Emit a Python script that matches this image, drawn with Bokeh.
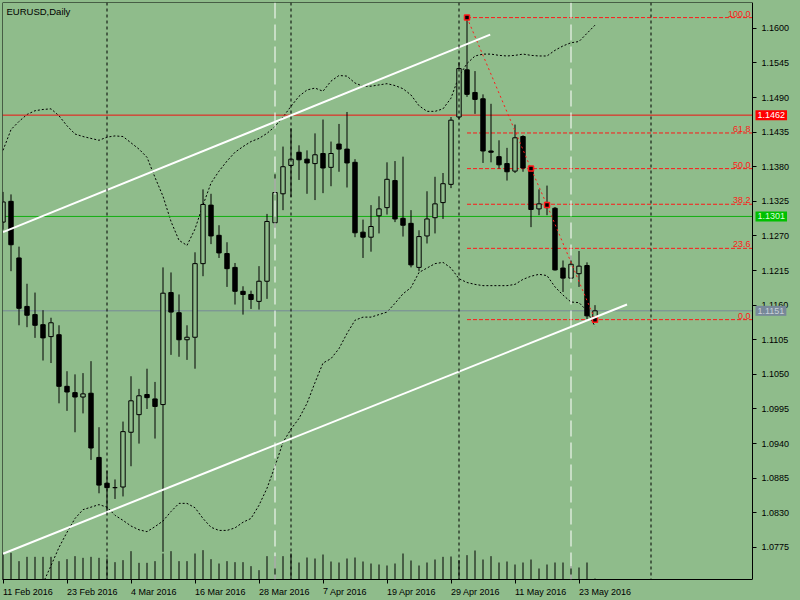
from bokeh.plotting import figure
from bokeh.models import (Range1d, FixedTicker, NumeralTickFormatter, Span, Label,
                          ColumnDataSource, LinearAxis)
from bokeh.embed import file_html
from bokeh.resources import INLINE

BG = "#8FBC8B"
FONT = "Liberation Sans"

# ---------------- data (EURUSD daily, 11 Feb 2016 .. 25 May 2016) ----------------
date_tick_index = [0, 8, 16, 24, 32, 40, 48, 56, 64, 72]
date_tick_labels = ["11 Feb 2016", "23 Feb 2016", "4 Mar 2016", "16 Mar 2016", "28 Mar 2016",
                    "7 Apr 2016", "19 Apr 2016", "29 Apr 2016", "11 May 2016", "23 May 2016"]

opens = [1.1292, 1.1325, 1.1235, 1.1158, 1.1145, 1.1129, 1.1110, 1.1113, 1.1031, 1.1021,
         1.1014, 1.1020, 1.0918, 1.0877, 1.0870, 1.0871, 1.0958, 1.0986, 1.1018, 1.1011,
         1.1002, 1.1180, 1.1148, 1.1105, 1.1109, 1.1226, 1.1319, 1.1271, 1.1242, 1.1220,
         1.1182, 1.1177, 1.1166, 1.1198, 1.1291, 1.1337, 1.1382, 1.1403, 1.1392, 1.1385,
         1.1401, 1.1379, 1.1416, 1.1408, 1.1387, 1.1276, 1.1268, 1.1302, 1.1315, 1.1358,
         1.1298, 1.1290, 1.1220, 1.1270, 1.1299, 1.1323, 1.1352, 1.1459, 1.1534, 1.1498,
         1.1488, 1.1405, 1.1396, 1.1385, 1.1373, 1.1428, 1.1377, 1.1313, 1.1322, 1.1314,
         1.1219, 1.1203, 1.1210, 1.1223, 1.1141]
highs = [1.1340, 1.1336, 1.1253, 1.1194, 1.1180, 1.1152, 1.1140, 1.1128, 1.1055, 1.1050,
         1.1052, 1.1071, 1.0966, 1.0897, 1.0883, 1.0975, 1.1047, 1.1027, 1.1059, 1.1038,
         1.1220, 1.1212, 1.1177, 1.1128, 1.1244, 1.1344, 1.1337, 1.1287, 1.1260, 1.1227,
         1.1190, 1.1183, 1.1222, 1.1305, 1.1368, 1.1412, 1.1441, 1.1414, 1.1406, 1.1433,
         1.1455, 1.1420, 1.1448, 1.1467, 1.1392, 1.1296, 1.1319, 1.1333, 1.1387, 1.1389,
         1.1396, 1.1311, 1.1279, 1.1341, 1.1364, 1.1370, 1.1459, 1.1546, 1.1617, 1.1532,
         1.1495, 1.1480, 1.1422, 1.1410, 1.1447, 1.1430, 1.1381, 1.1344, 1.1350, 1.1316,
         1.1231, 1.1239, 1.1246, 1.1228, 1.1160]
lows = [1.1280, 1.1214, 1.1128, 1.1125, 1.1108, 1.1072, 1.1068, 1.1004, 1.0992, 1.0958,
        1.0988, 1.0914, 1.0861, 1.0830, 1.0852, 1.0856, 1.0904, 1.0940, 1.0995, 1.0948,
        1.0768, 1.1081, 1.1078, 1.1073, 1.1059, 1.1206, 1.1257, 1.1235, 1.1189, 1.1161,
        1.1145, 1.1154, 1.1153, 1.1170, 1.1283, 1.1311, 1.1332, 1.1359, 1.1337, 1.1327,
        1.1338, 1.1349, 1.1372, 1.1347, 1.1268, 1.1235, 1.1245, 1.1274, 1.1304, 1.1292,
        1.1269, 1.1220, 1.1214, 1.1258, 1.1274, 1.1297, 1.1346, 1.1455, 1.1491, 1.1464,
        1.1386, 1.1387, 1.1377, 1.1358, 1.1370, 1.1372, 1.1284, 1.1303, 1.1303, 1.1215,
        1.1181, 1.1202, 1.1189, 1.1138, 1.1137]
closes = [1.1324, 1.1256, 1.1155, 1.1144, 1.1128, 1.1108, 1.1132, 1.1031, 1.1022, 1.1014,
          1.1019, 1.0933, 1.0874, 1.0870, 1.0870, 1.0959, 1.1008, 1.1016, 1.1013, 1.0999,
          1.1179, 1.1149, 1.1105, 1.1109, 1.1226, 1.1320, 1.1270, 1.1243, 1.1218, 1.1182,
          1.1177, 1.1169, 1.1198, 1.1293, 1.1339, 1.1380, 1.1392, 1.1391, 1.1386, 1.1399,
          1.1378, 1.1401, 1.1408, 1.1386, 1.1275, 1.1268, 1.1285, 1.1313, 1.1360, 1.1297,
          1.1287, 1.1224, 1.1269, 1.1297, 1.1321, 1.1353, 1.1454, 1.1536, 1.1495, 1.1487,
          1.1405, 1.1403, 1.1383, 1.1372, 1.1426, 1.1378, 1.1312, 1.1321, 1.1315, 1.1216,
          1.1203, 1.1225, 1.1222, 1.1143, 1.1151]
volumes = [156000, 160000, 110000, 136000, 136000, 136000, 136000, 110000, 122000, 140000,
           130000, 136000, 130000, 126000, 104000, 116000, 170000, 100000, 100000, 110000,
           156000, 170000, 110000, 110000, 156000, 176000, 122000, 96000, 110000, 104000,
           104000, 80000, 56000, 140000, 140000, 140000, 156000, 102000, 132000, 126000,
           150000, 108000, 102000, 126000, 132000, 108000, 96000, 90000, 84000, 96000,
           156000, 114000, 84000, 102000, 120000, 136000, 138000, 116000, 146000, 174000,
           120000, 140000, 102000, 108000, 90000, 102000, 120000, 66000, 90000, 102000,
           102000, 80000, 72000, 102000, 6000]
bb_upper = [1.1406, 1.1439, 1.1452, 1.1463, 1.1469, 1.1471, 1.1472, 1.1461, 1.1445, 1.1432,
            1.1428, 1.1425, 1.1422, 1.1427, 1.1429, 1.1428, 1.1418, 1.1408, 1.1395, 1.1363,
            1.1333, 1.1293, 1.1263, 1.1255, 1.1281, 1.1319, 1.1354, 1.1373, 1.1389, 1.1403,
            1.1412, 1.1420, 1.1425, 1.1433, 1.1444, 1.1459, 1.1476, 1.1492, 1.1502, 1.1505,
            1.1500, 1.1516, 1.1525, 1.1524, 1.1513, 1.1508, 1.1508, 1.1510, 1.1512, 1.1509,
            1.1504, 1.1494, 1.1477, 1.1468, 1.1468, 1.1472, 1.1489, 1.1524, 1.1544, 1.1556,
            1.1559, 1.1559, 1.1557, 1.1556, 1.1557, 1.1559, 1.1557, 1.1556, 1.1556, 1.1565,
            1.1572, 1.1577, 1.1579, 1.1592, 1.1605]
bb_lower = [1.0595, 1.0627, 1.0659, 1.0686, 1.0707, 1.0718, 1.0746, 1.0775, 1.0799, 1.0821,
            1.0835, 1.0839, 1.0843, 1.0839, 1.0826, 1.0818, 1.0809, 1.0803, 1.0800, 1.0808,
            1.0817, 1.0832, 1.0845, 1.0845, 1.0838, 1.0821, 1.0807, 1.0802, 1.0802, 1.0806,
            1.0815, 1.0821, 1.0842, 1.0869, 1.0904, 1.0942, 1.0963, 1.0980, 1.1004, 1.1037,
            1.1068, 1.1075, 1.1091, 1.1115, 1.1136, 1.1141, 1.1141, 1.1145, 1.1149, 1.1163,
            1.1178, 1.1188, 1.1212, 1.1219, 1.1226, 1.1228, 1.1219, 1.1202, 1.1196, 1.1193,
            1.1191, 1.1191, 1.1191, 1.1191, 1.1193, 1.1201, 1.1206, 1.1209, 1.1207, 1.1189,
            1.1176, 1.1165, 1.1164, 1.1151, 1.1126]

price_ticks = [1.0775, 1.0830, 1.0885, 1.0940, 1.0995, 1.1050, 1.1105, 1.1160,
               1.1215, 1.1270, 1.1325, 1.1380, 1.1435, 1.1490, 1.1545, 1.1600]

hline_levels = [1.1462, 1.1301, 1.1151]
hline_texts = ["1.1462", "1.1301", "1.1151"]

month_separators = [13, 36, 57, 81]
white_markers = [34, 71]

channel_upper_x = [0, 60.9]
channel_upper_y = [1.1276, 1.1590]
channel_lower_x = [0, 78.0]
channel_lower_y = [1.0765, 1.1161]

fib_start = 58
fib_high = 1.1617
fib_low = 1.1137
fib_levels = [100.0, 61.8, 50.0, 38.2, 23.6, 0.0]
fib_texts = ["100.0", "61.8", "50.0", "38.2", "23.6", "0.0"]

zigzag_x = [58, 66, 68, 74]
zigzag_y = [1.1617, 1.1377, 1.1319, 1.1137]

# ---------------- figure ----------------
# frame spans the whole width; the price scale sits inside it at X_AXIS (MetaTrader layout)
XMIN, XMAX = -0.0625, 99.5625
X_AXIS = 93.6875
YMIN, YMAX = 1.0724, 1.1641
FRAME_H = 577

p = figure(frame_width=797, frame_height=FRAME_H,
           x_range=Range1d(XMIN, XMAX), y_range=Range1d(YMIN, YMAX),
           x_axis_location=None, y_axis_location=None,
           output_backend="svg", toolbar_location=None,
           min_border_left=2, min_border_top=2, min_border_right=0, min_border_bottom=19,
           background_fill_color=BG, border_fill_color=BG)
p.outline_line_color = None
p.grid.visible = False

p.extra_y_ranges = {"vol": Range1d(0, FRAME_H * 6000)}

n = len(opens)
idx = list(range(n))
tops = [max(o, c) for o, c in zip(opens, closes)]
bots = [min(o, c) for o, c in zip(opens, closes)]
fills = ["black" if c < o else BG for o, c in zip(opens, closes)]
src = ColumnDataSource(dict(x=idx, o=opens, h=highs, l=lows, c=closes, top=tops, bot=bots,
                            fill=fills, vol=volumes, zero=[0] * n, up=bb_upper, lo=bb_lower))

# volumes
p.segment(x0="x", y0="zero", x1="x", y1="vol", source=src, y_range_name="vol",
          line_color="black", line_width=1)

# period separators
for s in month_separators:
    p.add_layout(Span(location=s, dimension="height", line_color="black",
                      line_dash="3 3", line_width=1))
for s in white_markers:
    p.add_layout(Span(location=s, dimension="height", line_color="white",
                      line_dash="16 6", line_width=1))

# bollinger bands
p.line("x", "up", source=src, line_color="black", line_dash="2 2", line_width=1)
p.line("x", "lo", source=src, line_color="black", line_dash="2 2", line_width=1)

# horizontal levels (stop at the price scale)
hcolors = ["#f01010", "#10b010", "#778899"]
p.segment(x0=[XMIN] * 3, y0=hline_levels, x1=[X_AXIS] * 3, y1=hline_levels,
          line_color=hcolors, line_width=1)

# fibonacci levels
fib_prices = [fib_low + (fib_high - fib_low) * f / 100.0 for f in fib_levels]
p.segment(x0=[fib_start] * len(fib_prices), y0=fib_prices,
          x1=[X_AXIS] * len(fib_prices), y1=fib_prices,
          line_color="#ff1a1a", line_dash="4 2", line_width=1)
for t, fp in zip(fib_texts, fib_prices):
    p.add_layout(Label(x=X_AXIS, y=fp, x_offset=-2, y_offset=1, text=t, text_align="right",
                       text_baseline="bottom", text_color="#ff1a1a",
                       text_font=FONT, text_font_size="9px"))

# candles
p.segment(x0="x", y0="l", x1="x", y1="h", source=src, line_color="black", line_width=1)
p.vbar(x="x", width=0.55, top="top", bottom="bot", source=src,
       fill_color="fill", line_color="black", line_width=1)

# zigzag / fibo anchor line
p.line(zigzag_x, zigzag_y, line_color="#ff1a1a", line_dash="2 3", line_width=1)
p.scatter(zigzag_x, zigzag_y, marker="square", size=5, fill_color="black",
          line_color="#ff1a1a", line_width=1.5)

# channel lines
p.line(channel_upper_x, channel_upper_y, line_color="white", line_width=2)
p.line(channel_lower_x, channel_lower_y, line_color="white", line_width=2)

# ---------------- axes ----------------
date_axis = LinearAxis(ticker=FixedTicker(ticks=date_tick_index), bounds=(XMIN, X_AXIS),
                       major_label_overrides={i: t for i, t in zip(date_tick_index, date_tick_labels)})
p.add_layout(date_axis, "below")

price_axis = LinearAxis(fixed_location=X_AXIS, ticker=FixedTicker(ticks=price_ticks),
                        formatter=NumeralTickFormatter(format="0.0000"))
p.add_layout(price_axis, "right")

left_edge = LinearAxis(fixed_location=XMIN, ticker=FixedTicker(ticks=[]))
p.add_layout(left_edge, "left")
top_edge = LinearAxis(fixed_location=YMAX, ticker=FixedTicker(ticks=[]), bounds=(XMIN, X_AXIS))
p.add_layout(top_edge, "above")

for ax in (date_axis, price_axis, left_edge, top_edge):
    ax.axis_line_color = "black"
    ax.axis_line_width = 1
    ax.major_tick_line_color = "black"
    ax.major_tick_in = 0
    ax.major_tick_out = 4
    ax.minor_tick_line_color = None
    ax.major_label_text_font = FONT
    ax.major_label_text_font_size = "9px"
    ax.major_label_text_color = "black"
    ax.major_label_standoff = 2
price_axis.major_label_standoff = 5
# tiny negative angle -> labels start at their tick (MetaTrader style)
date_axis.major_label_orientation = -0.0001
date_axis.major_label_standoff = 8

# price boxes on the price scale
box_bg = ["#ff0000", "#00c000", "#778899"]
box_fg = ["white", "#d8ffd8", "#c8d0d8"]
for lv, t, bg, fg in zip(hline_levels, hline_texts, box_bg, box_fg):
    p.add_layout(Label(x=X_AXIS, y=lv, x_offset=3, text=t, text_align="left",
                       text_baseline="middle", text_color=fg, text_font=FONT,
                       text_font_size="9px", background_fill_color=bg, padding=2))

p.add_layout(Label(x=XMIN, y=YMAX, x_offset=4, y_offset=-3, text="EURUSD,Daily",
                   text_align="left", text_baseline="top", text_color="black",
                   text_font=FONT, text_font_size="9.5px"))

template = """{% block preamble %}<style>html, body { background: #8FBC8B; overflow: hidden; }</style>{% endblock %}"""
open("out.html", "w").write(file_html(p, INLINE, title="EURUSD,Daily", template=template))
